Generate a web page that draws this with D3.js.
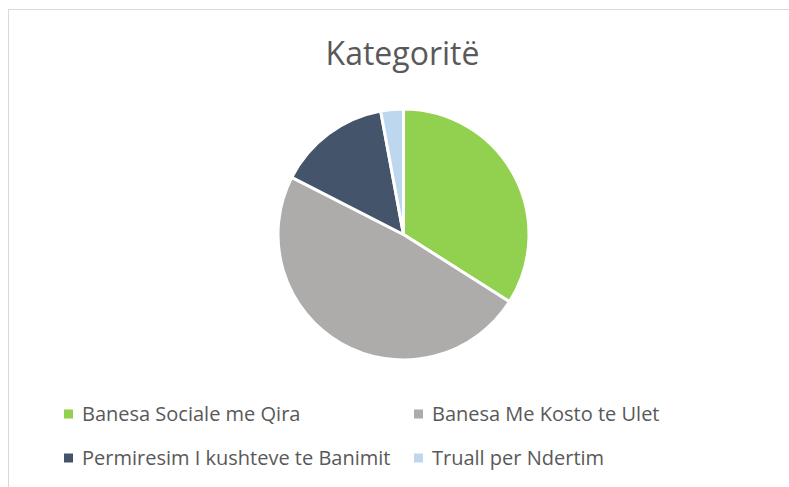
<!DOCTYPE html>
<html>
<head>
<meta charset="utf-8">
<script src="https://cdn.jsdelivr.net/npm/d3@7"></script>
<style>
  body { margin: 0; background: #fff; }
  text { font-family: "Open Sans", sans-serif; fill: #595959; }
</style>
</head>
<body>
<div id="chart"></div>
<script>
// data
const categories = ['Banesa Sociale me Qira', 'Banesa Me Kosto te Ulet',
    'Permiresim I kushteve te Banimit', 'Truall per Ndertim'];
const values = [35, 50, 15, 3];
const colors = ['#92D050', '#AEABAB', '#44546A', '#BDD7EE'];

const W = 789, H = 487;
const cx = 403.5, cy = 234.5, radius = 125.5;

const svg = d3.select('#chart')
    .append('svg')
    .attr('width', W)
    .attr('height', H);

// chart frame
svg.append('rect')
    .attr('x', 8.5)
    .attr('y', 9.5)
    .attr('width', 800)
    .attr('height', 600)
    .attr('fill', 'none')
    .attr('stroke', '#d9d9d9')
    .attr('stroke-width', 1);

// title
svg.append('text')
    .attr('x', 402.5)
    .attr('y', 65)
    .attr('text-anchor', 'middle')
    .style('font-size', '32px')
    .text('Kategoritë');

const pie = d3.pie().sort(null).value(d => d);
const arc = d3.arc().innerRadius(0).outerRadius(radius);

const g = svg.append('g')
    .attr('transform', `translate(${cx},${cy})`);

g.selectAll('path')
    .data(pie(values))
    .join('path')
    .attr('d', arc)
    .attr('fill', (d, i) => colors[i])
    .attr('stroke', '#fff')
    .attr('stroke-width', 3)
    .attr('stroke-linejoin', 'round');

// legend, two columns
const colX = [64, 414];
const rowY = [421, 465]; // text baselines
const legend = svg.append('g');
categories.forEach((c, i) => {
    const x = colX[i % 2], y = rowY[Math.floor(i / 2)];
    legend.append('rect')
        .attr('x', x)
        .attr('y', y - 11.5)
        .attr('width', 9)
        .attr('height', 9)
        .attr('fill', colors[i]);
    legend.append('text')
        .attr('x', x + 18)
        .attr('y', y)
        .style('font-size', '20px')
        .text(c);
});
</script>
</body>
</html>
